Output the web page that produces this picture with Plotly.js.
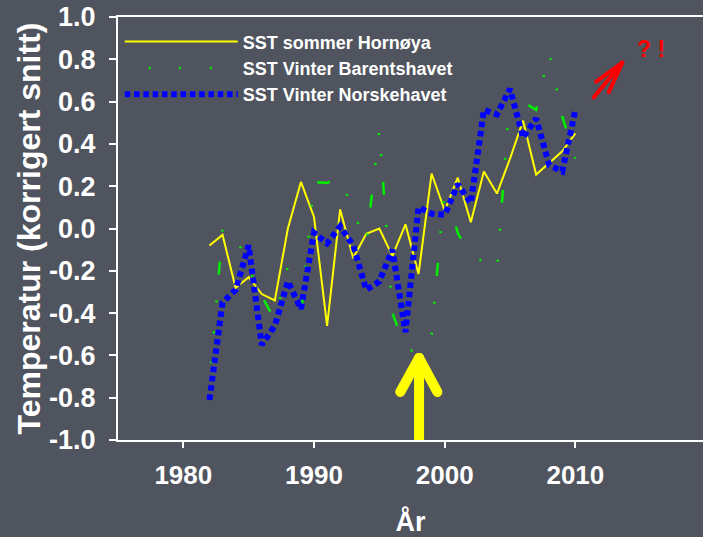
<!DOCTYPE html>
<html><head><meta charset="utf-8">
<script src="https://cdn.plot.ly/plotly-3.0.1.min.js"></script>
<style>
html,body{margin:0;padding:0;background:#50545e;overflow:hidden}
#chart{width:703px;height:537px}
.shapelayer path{stroke-linecap:round;stroke-linejoin:round}
</style></head><body><div id="chart"></div>
<script>
const years = [1982,1983,1984,1985,1986,1987,1988,1989,1990,1991,1992,1993,1994,1995,1996,1997,1998,1999,2000,2001,2002,2003,2004,2005,2006,2007,2008,2009,2010];
const hornoya = [-0.08,-0.03,-0.28,-0.23,-0.31,-0.34,0.00,0.22,0.055,-0.46,0.09,-0.14,-0.025,0.00,-0.13,0.02,-0.215,0.26,0.085,0.24,0.03,0.27,0.165,0.33,0.51,0.255,0.31,0.365,0.45];
const barents = [-0.75,0.00,-0.03,-0.19,-0.32,-0.43,-0.18,-0.41,0.22,0.215,0.245,0.08,-0.07,0.47,-0.40,-0.57,-0.585,-0.50,0.20,-0.02,-0.135,-0.155,-0.20,0.64,0.60,0.56,0.83,0.53,0.33];
const norske = [-0.81,-0.35,-0.29,-0.08,-0.55,-0.46,-0.25,-0.38,-0.02,-0.07,0.01,-0.08,-0.29,-0.25,-0.10,-0.49,0.10,0.07,0.065,0.21,0.12,0.56,0.54,0.66,0.43,0.52,0.30,0.27,0.56];
const seriesNames = ['SST sommer Hornøya','SST Vinter Barentshavet','SST Vinter Norskehavet'];
const xTickVals = [1980,1990,2000,2010];
const xTickText = ['1980','1990','2000','2010'];
const yTickVals = [-1.0,-0.8,-0.6,-0.4,-0.2,0.0,0.2,0.4,0.6,0.8,1.0];
const yTickText = ['-1.0','-0.8','-0.6','-0.4','-0.2','0.0','0.2','0.4','0.6','0.8','1.0'];

const FONT = 'Liberation Sans, Arial, Helvetica, sans-serif';
const BG = '#50545e';

const traces = [
  {x: years, y: hornoya, name: seriesNames[0], type: 'scatter', mode: 'lines',
   line: {color: '#ffff00', width: 2}},
  {x: years, y: barents, name: seriesNames[1], type: 'scatter', mode: 'lines',
   line: {color: '#00f000', width: 2.5, dash: '0px,24px,2px,28px,2px,29px,2px,26px,13px,6px'}},
  {x: years, y: norske, name: seriesNames[2], type: 'scatter', mode: 'lines',
   line: {color: '#0000ff', width: 6, dash: '5.5px,3.8px'}}
];

const yellowArrow = {type: 'line', xref: 'x', yref: 'y', line: {color: '#ffff00', width: 10}};
const redArrow = {type: 'line', xref: 'x', yref: 'y', line: {color: '#ff0000', width: 4}};
const shapes = [
  Object.assign({x0: 1998.04, y0: -1.02, x1: 1998.04, y1: -0.612}, yellowArrow),
  Object.assign({x0: 1996.6, y0: -0.773, x1: 1998.04, y1: -0.612}, yellowArrow),
  Object.assign({x0: 1999.44, y0: -0.773, x1: 1998.04, y1: -0.612}, yellowArrow),
  Object.assign({x0: 2011.41, y0: 0.620, x1: 2013.59, y1: 0.784}, redArrow),
  Object.assign({x0: 2011.6, y0: 0.694, x1: 2013.59, y1: 0.784}, redArrow),
  Object.assign({x0: 2012.56, y0: 0.644, x1: 2013.59, y1: 0.784}, redArrow)
];

const layout = {
  width: 703, height: 537,
  margin: {l: 118, r: 0, t: 17, b: 97, pad: 0},
  paper_bgcolor: BG, plot_bgcolor: BG,
  font: {family: FONT, color: '#ffffff', size: 18, weight: 700},
  showlegend: true,
  legend: {x: 0.003, y: 0.985, xanchor: 'left', yanchor: 'top', bgcolor: 'rgba(0,0,0,0)',
           font: {family: FONT, size: 18, color: '#ffffff', weight: 700},
           itemwidth: 113, tracegroupgap: 0},
  xaxis: {range: [1975, 2019.77], tickvals: xTickVals, ticktext: xTickText,
          ticks: 'outside', ticklen: 6, tickwidth: 2, tickcolor: '#ffffff',
          showline: true, linewidth: 2, linecolor: '#ffffff', mirror: true,
          showgrid: false, zeroline: false, automargin: false, ticklabelstandoff: 5,
          tickfont: {family: FONT, size: 26, color: '#ffffff', weight: 700},
          title: {text: 'År', font: {family: FONT, size: 27, color: '#ffffff', weight: 700}}},
  yaxis: {range: [-1, 1], tickvals: yTickVals, ticktext: yTickText,
          ticks: 'outside', ticklen: 7, tickwidth: 2, tickcolor: '#ffffff',
          showline: true, linewidth: 2, linecolor: '#ffffff',
          showgrid: false, zeroline: false, automargin: false, ticklabelstandoff: 8,
          tickfont: {family: FONT, size: 27, color: '#ffffff', weight: 700},
          title: {text: 'Temperatur (korrigert snitt)', font: {family: FONT, size: 32, color: '#ffffff', weight: 700}}},
  shapes: shapes,
  annotations: [{x: 2015.76, y: 0.849, xref: 'x', yref: 'y', text: '? !', showarrow: false,
                 xanchor: 'center', yanchor: 'middle',
                 font: {family: FONT, size: 23, color: '#ff0000', weight: 700}}]
};

Plotly.newPlot('chart', traces, layout, {displayModeBar: false, staticPlot: true});
</script></body></html>
